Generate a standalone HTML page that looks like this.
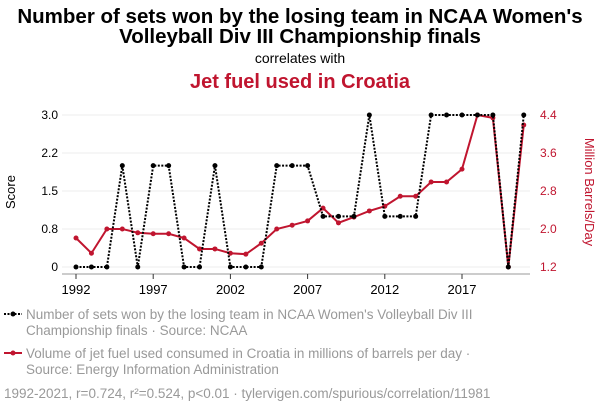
<!DOCTYPE html>
<html><head><meta charset="utf-8"><style>
body{margin:0;background:#fff;width:600px;height:414px;overflow:hidden;font-family:"Liberation Sans",sans-serif}
</style></head><body>
<svg width="600" height="414" xmlns="http://www.w3.org/2000/svg" font-family="Liberation Sans, sans-serif">
<text x="300" y="23" text-anchor="middle" font-size="20.5" font-weight="bold" fill="#000">Number of sets won by the losing team in NCAA Women's</text>
<text x="300" y="43" text-anchor="middle" font-size="20.5" font-weight="bold" fill="#000">Volleyball Div III Championship finals</text>
<text x="300" y="63" text-anchor="middle" font-size="14" fill="#000">correlates with</text>
<text x="300" y="88" text-anchor="middle" font-size="20" font-weight="bold" fill="#c0152f">Jet fuel used in Croatia</text>
<g id="grid"></g>
<line x1="62" y1="274" x2="530" y2="274" stroke="#999"/>
<g id="axes"></g>
<text transform="translate(15,192) rotate(-90)" text-anchor="middle" font-size="13" fill="#000">Score</text>
<text transform="translate(585,192) rotate(90)" text-anchor="middle" font-size="13" fill="#c0152f">Million Barrels/Day</text>
<g id="series"></g>
<g>
<line x1="4" y1="314" x2="22" y2="314" stroke="#000" stroke-width="2" stroke-dasharray="2,1.5"/>
<circle cx="13" cy="314" r="2.5" fill="#000"/>
<text x="26" y="319" font-size="13.5" fill="#999">Number of sets won by the losing team in NCAA Women's Volleyball Div III</text>
<text x="26" y="335" font-size="13.5" fill="#999">Championship finals · Source: NCAA</text>
</g>
<g>
<line x1="4" y1="353" x2="22" y2="353" stroke="#c0152f" stroke-width="2"/>
<circle cx="13" cy="353" r="2.5" fill="#c0152f"/>
<text x="26" y="358" font-size="13.5" fill="#999">Volume of jet fuel used consumed in Croatia in millions of barrels per day ·</text>
<text x="26" y="374" font-size="13.5" fill="#999">Source: Energy Information Administration</text>
</g>
<text x="4" y="398" font-size="13.5" fill="#999">1992-2021, r=0.724, r²=0.524, p&lt;0.01 · tylervigen.com/spurious/correlation/11981</text>
</svg>
<script>
const years=[1992,1993,1994,1995,1996,1997,1998,1999,2000,2001,2002,2003,2004,2005,2006,2007,2008,2009,2010,2011,2012,2013,2014,2015,2016,2017,2018,2019,2020,2021];
const sets=[0,0,0,2,0,2,2,0,0,2,0,0,0,2,2,2,1,1,1,3,1,1,1,3,3,3,3,3,0,3];
const jetFuel=[1.81,1.49,2.0,2.0,1.92,1.9,1.9,1.81,1.58,1.58,1.49,1.47,1.7,2.0,2.08,2.17,2.44,2.13,2.25,2.38,2.48,2.69,2.69,2.99,2.99,3.26,4.4,4.34,1.2,4.19];
const leftTicks=[0,0.75,1.5,2.25,3];
const leftLabels=["0","0.8","1.5","2.2","3.0"];
const rightTicks=[1.2,2.0,2.8,3.6,4.4];
const xTicks=[1992,1997,2002,2007,2012,2017];
const NS="http://www.w3.org/2000/svg";
const x=y=>76+(y-1992)*(386/25);
const yl=v=>267-v/3*152;
const yr=v=>267-(v-1.2)/3.2*152;
function mk(t,a,p){const e=document.createElementNS(NS,t);for(const k in a)e.setAttribute(k,a[k]);if(p)p.appendChild(e);return e;}
const grid=document.getElementById('grid'),axes=document.getElementById('axes'),ser=document.getElementById('series');
leftTicks.forEach((v,i)=>{
 const g=mk('line',{x1:62,x2:530,y1:yl(v),y2:yl(v),stroke:'#eee'},grid);
 
 
 const t=mk('text',{x:58,y:yl(v)+4,'text-anchor':'end','font-size':12,fill:'#000'},axes);t.textContent=leftLabels[i];
 
 
});
rightTicks.forEach(v=>{
 const t=mk('text',{x:540,y:yr(v)+4,'font-size':12,fill:'#c0152f'},axes);t.textContent=v.toFixed(1);
 
 
});
xTicks.forEach(v=>{
 mk('line',{x1:x(v),x2:x(v),y1:274,y2:279,stroke:'#333'},axes);
 const t=mk('text',{x:x(v),y:294,'text-anchor':'middle','font-size':13,fill:'#000'},axes);t.textContent=v;
 
 
});
const rl=mk('polyline',{points:years.map((y,i)=>x(y)+','+yr(jetFuel[i])).join(' '),fill:'none',stroke:'#c0152f','stroke-width':2},ser);


years.forEach((y,i)=>{const c=mk('circle',{cx:x(y),cy:yr(jetFuel[i]),r:2.5,fill:'#c0152f'},ser);
 
 });
const bl=mk('polyline',{points:years.map((y,i)=>x(y)+','+yl(sets[i])).join(' '),fill:'none',stroke:'#000','stroke-width':2,'stroke-dasharray':'2,1.5'},ser);


years.forEach((y,i)=>{const c=mk('circle',{cx:x(y),cy:yl(sets[i]),r:2.5,fill:'#000'},ser);
 
 });
</script>
</body></html>
